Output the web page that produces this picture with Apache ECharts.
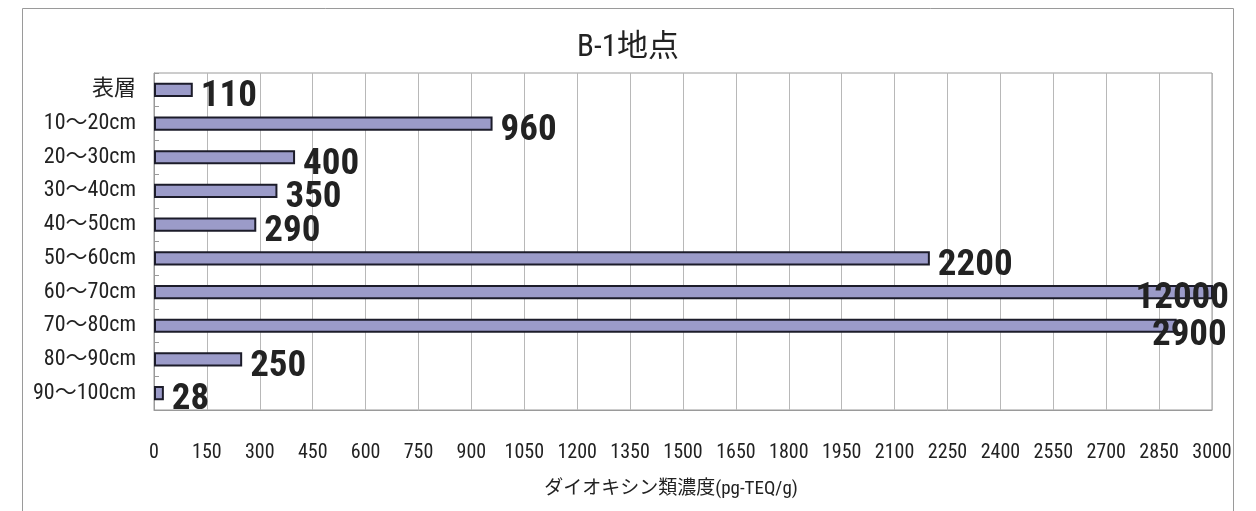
<!DOCTYPE html>
<html>
<head>
<meta charset="utf-8">
<title>B-1地点</title>
<script src="https://cdn.jsdelivr.net/npm/echarts@6/dist/echarts.min.js"></script>
<style>
  html, body { margin: 0; padding: 0; background: #ffffff; }
  #chart { width: 1256px; height: 511px; }
</style>
</head>
<body>
<div id="chart"></div>
<script>
// Sampling depths, top to bottom
const depths = ['表層', '10～20cm', '20～30cm', '30～40cm', '40～50cm',
                '50～60cm', '60～70cm', '70～80cm', '80～90cm', '90～100cm'];
// Dioxin concentration per depth (pg-TEQ/g)
const concentrations = [110, 960, 400, 350, 290, 2200, 12000, 2900, 250, 28];
// Axis range and step
const axisMin = 0;
const axisMax = 3000;
const axisStep = 150;

const chartTitle = 'B-1地点';
const axisTitle = 'ダイオキシン類濃度(pg-TEQ/g)';

const narrow = '"Liberation Sans Narrow", "Roboto Condensed", "DejaVu Sans Condensed", "Noto Sans CJK JP", sans-serif';

// Values at or beyond the axis end get their label pulled back inside the chart
const barData = concentrations.map(function (v) {
  if (v >= axisMax * 0.95) {
    const clipped = v > axisMax;
    return {
      value: v,
      label: {
        position: 'insideRight',
        distance: 0,
        offset: clipped ? [16, 7] : [50, 10]
      }
    };
  }
  return v;
});

const chart = echarts.init(document.getElementById('chart'), null, { renderer: 'canvas' });

chart.setOption({
  backgroundColor: '#ffffff',
  animation: false,
  graphic: [{
    type: 'rect',
    shape: { x: 22.5, y: 8.5, width: 1211, height: 540 },
    style: { fill: 'none', stroke: '#9a9a9a', lineWidth: 1 },
    silent: true
  }],
  title: {
    text: chartTitle,
    left: 'center',
    top: 28,
    textStyle: { fontFamily: narrow, fontSize: 31, fontWeight: 'normal', color: '#222' }
  },
  grid: {
    left: 154, right: 44, top: 73, bottom: 101,
    show: true, borderColor: '#9a9a9a', borderWidth: 1,
    containLabel: false
  },
  xAxis: {
    type: 'value',
    min: axisMin,
    max: axisMax,
    interval: axisStep,
    name: axisTitle,
    nameLocation: 'middle',
    nameGap: 70,
    nameTextStyle: { fontFamily: narrow, fontSize: 19, color: '#222', padding: [0, 24, 0, 0] },
    axisLine: { show: true, lineStyle: { color: '#9a9a9a', width: 1 } },
    axisTick: { show: false },
    axisLabel: {
      fontFamily: narrow, fontSize: 20, color: '#222', margin: 33,
      showMinLabel: true, showMaxLabel: true, hideOverlap: false,
      formatter: function (v) { return String(v); }
    },
    splitLine: { show: true, lineStyle: { color: '#b8b8b8', width: 1 } }
  },
  yAxis: {
    type: 'category',
    data: depths,
    inverse: true,
    axisLine: { show: true, lineStyle: { color: '#9a9a9a', width: 1 } },
    axisTick: { show: true, inside: true, length: 5, lineStyle: { color: '#9a9a9a' } },
    axisLabel: { fontFamily: narrow, fontSize: 22, color: '#222', margin: 18 },
    splitLine: { show: false }
  },
  series: [{
    type: 'bar',
    data: barData,
    barCategoryGap: '58%',
    clip: true,
    itemStyle: { color: '#9b9bc9', borderColor: '#1c1c2a', borderWidth: 2 },
    label: {
      show: true,
      position: 'right',
      distance: 8,
      offset: [0, 7],
      fontFamily: narrow,
      fontSize: 37,
      fontWeight: 'bold',
      color: '#222'
    }
  }]
});
</script>
</body>
</html>
